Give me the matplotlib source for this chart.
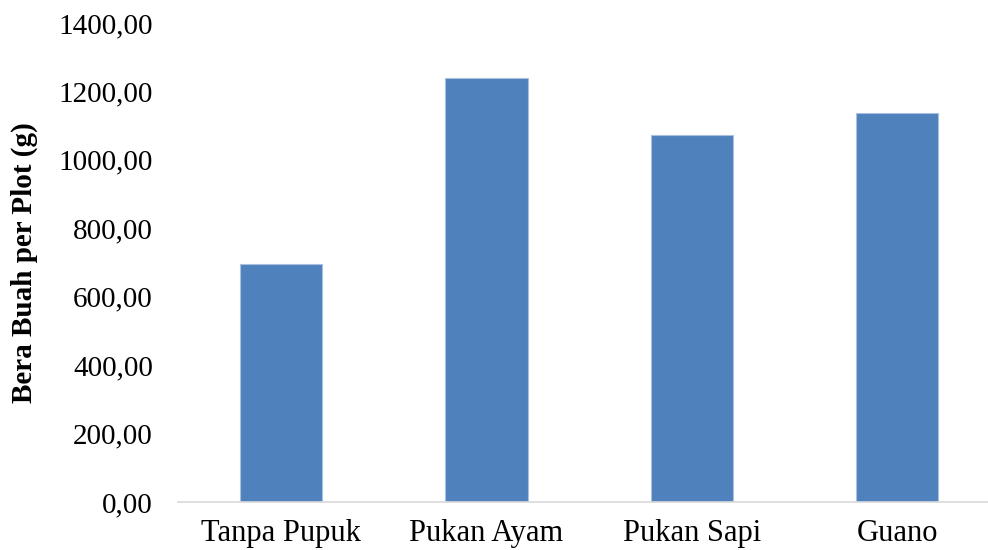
import matplotlib.pyplot as plt
from matplotlib.ticker import FuncFormatter

# data
categories = ["Tanpa Pupuk", "Pukan Ayam", "Pukan Sapi", "Guano"]
bobot = [695, 1238, 1073, 1136]
y_ticks = [0, 200, 400, 600, 800, 1000, 1200, 1400]

plt.rcParams['font.family'] = ['Liberation Serif', 'DejaVu Serif']

fig = plt.figure(figsize=(9.88, 5.5), dpi=100)
ax = fig.add_axes([0.180, 0.0873, 0.820, 0.871])

x = list(range(len(categories)))
ax.bar(x, bobot, width=0.4, color='#4F81BD', edgecolor='#A9C0DF', linewidth=0.8)

ax.set_xlim(-0.504, 3.443)
ax.set_ylim(0, 1400)
ax.set_yticks(y_ticks)
ax.yaxis.set_major_formatter(FuncFormatter(lambda v, p: f"{v:.2f}".replace('.', ',')))
ax.set_xticks(x)
ax.set_xticklabels(categories, fontsize=22)

ax.tick_params(axis='y', length=0, pad=18, labelsize=21)
ax.tick_params(axis='x', length=0, pad=12)

for side in ['top', 'right', 'left']:
    ax.spines[side].set_visible(False)
ax.spines['bottom'].set_color('#D9D9D9')
ax.spines['bottom'].set_linewidth(1.2)

ax.set_ylabel("Bera Buah per Plot (g)", fontsize=21, fontweight='bold')
ax.yaxis.set_label_coords(-0.173, 0.5)

plt.savefig("out.png", dpi=100)
